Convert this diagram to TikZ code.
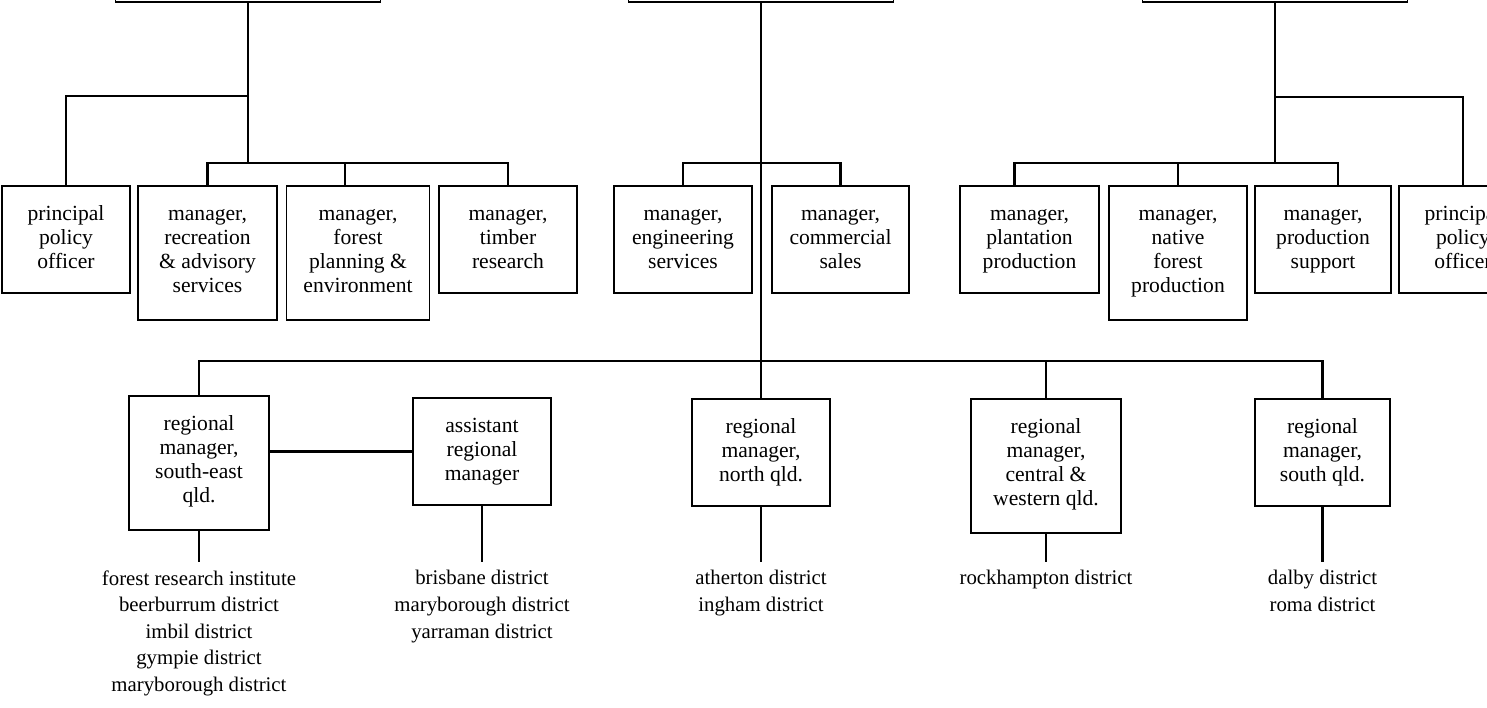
\documentclass[tikz,border=0pt]{standalone}
\usepackage{fontspec}
\setmainfont{Liberation Serif}
\begin{document}
\begin{tikzpicture}[x=0.5pt, y=-0.5pt,
  box/.style={draw, line width=0.9pt, align=center, anchor=north, inner xsep=2pt, inner ysep=8.75pt,
    font=\fontsize{10.8}{12}\selectfont, minimum width=69pt, text depth=3.6pt},
  tallbox/.style={box, text depth=5.1pt},
  headbox/.style={draw, line width=0.9pt, anchor=south, minimum width=132.5pt, minimum height=40pt},
  district/.style={align=center, anchor=north, inner ysep=4pt, font=\fontsize{10.4}{13.3}\selectfont},
  link/.style={line width=1.3pt}]
\useasboundingbox (0,0) rectangle (1487,707);
\clip (0,0) rectangle (1487,707);
% general managers (cut off at the top)
\node[headbox] (gm1) at (248,3) {};
\node[headbox] (gm2) at (761,3) {};
\node[headbox] (gm3) at (1275,3) {};
% first row
\node[box, minimum width=64pt] (pp1) at (66,185) {\strut principal\\policy\\officer};
\node[tallbox, minimum width=69.5pt] (rec) at (207.5,185) {\strut manager,\\recreation\\\& advisory\\services};
\node[tallbox, minimum width=71.5pt] (fpe) at (358,185) {\strut manager,\\forest\\planning \&\\environment};
\node[box] (tim) at (508,185) {\strut manager,\\timber\\research};
\node[box] (eng) at (683,185) {\strut manager,\\engineering\\services};
\node[box, minimum width=68.5pt] (com) at (840.5,185) {\strut manager,\\commercial\\sales};
\node[box, minimum width=69.5pt] (pla) at (1029.5,185) {\strut manager,\\plantation\\production};
\node[tallbox] (nat) at (1178,185) {\strut manager,\\native\\forest\\production};
\node[box, minimum width=68pt] (psu) at (1323,185) {\strut manager,\\production\\support};
\node[box, minimum width=64pt] (pp2) at (1463,185) {\strut principal\\policy\\officer};
% regions
\node[tallbox, minimum width=70pt] (se) at (199,395) {\strut regional\\manager,\\south-east\\qld.};
\node[box] (ast) at (482,397) {\strut assistant\\regional\\manager};
\node[box] (nth) at (761,398) {\strut regional\\manager,\\north qld.};
\node[tallbox, minimum width=75pt] (cw) at (1046,398) {\strut regional\\manager,\\central \&\\western qld.};
\node[box, minimum width=67.5pt] (sth) at (1322.5,398) {\strut regional\\manager,\\south qld.};
% districts
\node[district] (dse) at (199,562) {forest research institute\\beerburrum district\\imbil district\\gympie district\\maryborough district};
\node[district] (das) at (482,562) {brisbane district\\maryborough district\\yarraman district};
\node[district] (dnt) at (761,562) {atherton district\\ingham district};
\node[district] (dcw) at (1046,562) {rockhampton district};
\node[district] (dst) at (1322.5,562) {dalby district\\roma district};
% left group
\coordinate (j1) at (248,96);
\coordinate (j2) at (248,163);
\draw[link] (gm1.south) -- (j2);
\draw[link] (j1) -| (pp1.north);
\draw[link] (rec.north) |- (tim.north |- j2) -- (tim.north);
\draw[link] ([xshift=-6.5pt]fpe.north) -- ([xshift=-6.5pt]fpe.north |- j2);
% middle group
\coordinate (j3) at (761,163);
\coordinate (j6) at (761,361);
\draw[link] (gm2.south) -- (nth.north);
\draw[link] (eng.north) |- (com.north |- j3) -- (com.north);
\draw[link] (se.north) |- (sth.north |- j6) -- (sth.north);
\draw[link] (cw.north) -- (cw.north |- j6);
\draw[link] (ast.west) -- (ast.west -| se.east);
% right group
\coordinate (j4) at (1275,97);
\coordinate (j5) at (1275,163);
\draw[link] (gm3.south) -- (j5);
\draw[link] (j4) -| (pp2.north);
\draw[link] ([xshift=-7.5pt]pla.north) |- ([xshift=7.5pt]psu.north |- j5) -- ([xshift=7.5pt]psu.north);
\draw[link] (nat.north) -- (nat.north |- j5);
% down to the districts
\draw[link] (se.south) -- (dse.north);
\draw[link] (ast.south) -- (das.north);
\draw[link] (nth.south) -- (dnt.north);
\draw[link] (cw.south) -- (dcw.north);
\draw[link] (sth.south) -- (dst.north);
\end{tikzpicture}
\end{document}
